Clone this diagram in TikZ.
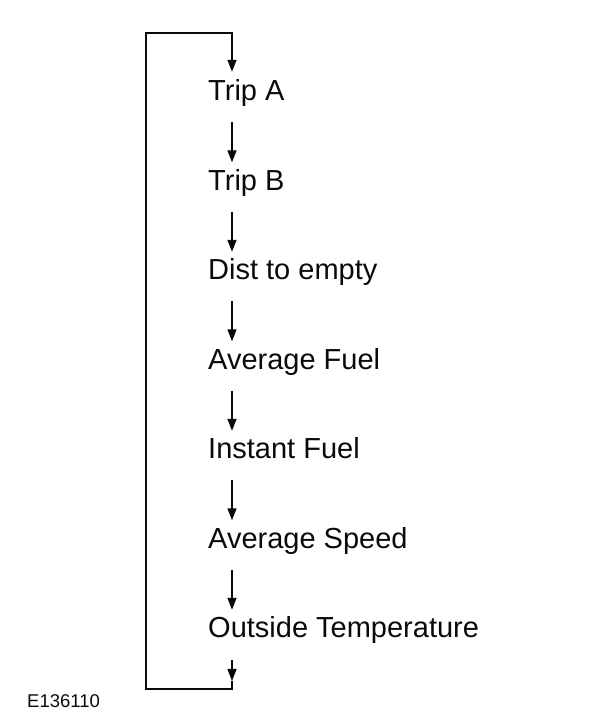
\documentclass[tikz,border=0pt]{standalone}
\usepackage{fontspec}
\setmainfont{Liberation Sans}
\usetikzlibrary{arrows.meta}
\definecolor{ink}{RGB}{10,10,10}

\begin{document}
\begin{tikzpicture}[x=1pt,y=1pt,
    item/.style={anchor=base west,inner sep=0pt,text height=21pt,text depth=6pt,
      font=\fontsize{29}{34}\selectfont,text=ink},
    flow/.style={ink,line width=1.4pt,-{Triangle[length=12pt,width=9pt]}}]
  \def\tx{208};
  \def\ax{232};
  \def\dy{89.5};
  \def\ytop{625};
  \useasboundingbox (0,0) rectangle (600,726);

  \coordinate (ax) at (\ax,0);
  \coordinate (cTL) at (146,693);
  \coordinate (cBL) at (146,37);
  \coordinate (tip) at (\ax,45);

  \node[item] (tripA) at (\tx,\ytop){Trip A};
  \node[item] (tripB) at (\tx,\ytop-\dy){Trip B};
  \node[item] (dist) at (\tx,\ytop-2*\dy){Dist to empty};
  \node[item] (avgFuel) at (\tx,\ytop-3*\dy){Average Fuel};
  \node[item] (instFuel) at (\tx,\ytop-4*\dy){Instant Fuel};
  \node[item] (avgSpeed) at (\tx,\ytop-5*\dy){Average Speed};
  \node[item] (outTemp) at (\tx,\ytop-6*\dy){Outside Temperature};

  \draw[flow,shorten <=15pt,shorten >=7pt] (tripA.south -| ax)--(tripB.north -| ax);
  \draw[flow,shorten <=15pt,shorten >=7pt] (tripB.south -| ax)--(dist.north -| ax);
  \draw[flow,shorten <=15pt,shorten >=7pt] (dist.south -| ax)--(avgFuel.north -| ax);
  \draw[flow,shorten <=15pt,shorten >=7pt] (avgFuel.south -| ax)--(instFuel.north -| ax);
  \draw[flow,shorten <=15pt,shorten >=7pt] (instFuel.south -| ax)--(avgSpeed.north -| ax);
  \draw[flow,shorten <=15pt,shorten >=7pt] (avgSpeed.south -| ax)--(outTemp.north -| ax);
  \draw[flow,shorten <=16pt] (outTemp.south -| ax)--(tip);

  %loop back
  \draw[flow,shorten >=8pt] (tip)|-(cBL)--(cTL)-|(tripA.north -| ax);

  \node[anchor=base west,inner sep=0pt,font=\fontsize{18.5}{22}\selectfont,text=ink] (code) at (27,18){E136110};
\end{tikzpicture}
\end{document}
